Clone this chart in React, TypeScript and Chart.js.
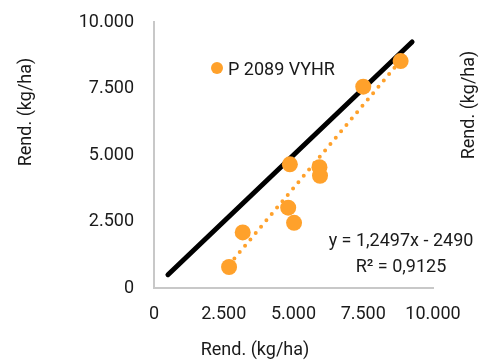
import React, { useEffect, useRef } from "react";
import { Chart, registerables } from "chart.js";

Chart.register(...registerables);

// ---- data ----
const seriesName = "P 2089 VYHR";
const xValues = [2690, 3180, 4810, 4870, 5020, 5930, 5950, 7500, 8840];
const yValues = [790, 2090, 3020, 4650, 2450, 4540, 4220, 7570, 8530];
const refLineValues = [500, 9250]; // 1:1 line start / end
const trendSlope = 1.2497;
const trendIntercept = -2490;
const axisTicks = [0, 2500, 5000, 7500, 10000];
const axisTitle = "Rend. (kg/ha)";
const equationLines = ["y = 1,2497x - 2490", "R² = 0,9125"];

// ---- styles ----
const ORANGE = "#FFA12B";
const TEXT = "#1a1a1a";
const AXIS = "#C8C8C8";
const FONT = "Roboto";

const fmt = (v: number) => String(v).replace(/\B(?=(\d{3})+(?!\d))/g, ".");

const textPlugin = {
  id: "extraTexts",
  afterDraw(chart: any) {
    const ctx = chart.ctx as CanvasRenderingContext2D;
    ctx.save();
    ctx.font = `18px ${FONT}`;
    ctx.fillStyle = TEXT;
    ctx.textBaseline = "alphabetic";
    ctx.textAlign = "center";
    // x axis title
    ctx.fillText(axisTitle, 255, 355);
    // left y axis title
    ctx.save();
    ctx.translate(30.5, 112);
    ctx.rotate(-Math.PI / 2);
    ctx.fillText(axisTitle, 0, 0);
    ctx.restore();
    // right (secondary) y axis title, clipped by the edge
    ctx.save();
    ctx.translate(473.5, 105);
    ctx.rotate(-Math.PI / 2);
    ctx.fillText(axisTitle, 0, 0);
    ctx.restore();
    // legend inside the plot
    ctx.fillStyle = ORANGE;
    ctx.beginPath();
    ctx.arc(217, 68, 6, 0, Math.PI * 2);
    ctx.fill();
    ctx.fillStyle = TEXT;
    ctx.textAlign = "left";
    ctx.fillText(chart.data.datasets[0].label, 228, 75);
    // trendline equation
    ctx.textAlign = "center";
    ctx.fillText(equationLines[0], 401, 246);
    ctx.fillText(equationLines[1], 401, 271.5);
    ctx.restore();
  },
};

export default function App() {
  const ref = useRef<HTMLCanvasElement | null>(null);

  useEffect(() => {
    if (!ref.current) return;
    const points = xValues.map((x, i) => ({ x, y: yValues[i] }));
    const minX = Math.min(...xValues);
    const maxX = Math.max(...xValues);
    const trend = [minX, maxX].map((x) => ({ x, y: trendSlope * x + trendIntercept }));
    const ref11 = refLineValues.map((v) => ({ x: v, y: v }));

    const axisCommon = (isX: boolean) => ({
      type: "linear" as const,
      min: 0,
      max: 10000,
      grid: { display: false, drawTicks: false },
      border: { display: true, color: AXIS, width: 2 },
      afterBuildTicks: (scale: any) => {
        scale.ticks = axisTicks.map((v) => ({ value: v }));
      },
      ticks: {
        padding: isX ? 16 : 20,
        color: TEXT,
        font: { family: FONT, size: 18 },
        callback: (v: any) => fmt(Number(v)),
        autoSkip: false,
        maxRotation: 0,
        minRotation: 0,
      },
      afterFit: (scale: any) => {
        if (isX) scale.height = 73;
        else scale.width = 154;
        scale.paddingTop = 0;
        scale.paddingBottom = 0;
        scale.paddingLeft = 0;
        scale.paddingRight = 0;
      },
    });

    const chart = new Chart(ref.current, {
      type: "scatter",
      data: {
        datasets: [
          {
            label: seriesName,
            data: points,
            backgroundColor: ORANGE,
            borderWidth: 0,
            pointRadius: 8,
            pointHoverRadius: 8,
            order: 0,
          },
          {
            label: "trend",
            type: "line",
            data: trend,
            borderColor: ORANGE,
            borderWidth: 4,
            borderDash: [0, 8.3],
            borderCapStyle: "round",
            pointRadius: 0,
            fill: false,
            order: 1,
          } as any,
          {
            label: "1:1",
            type: "line",
            data: ref11,
            borderColor: "#000000",
            borderWidth: 5,
            borderCapStyle: "round",
            pointRadius: 0,
            fill: false,
            order: 2,
          } as any,
        ],
      },
      options: {
        animation: false,
        responsive: false,
        layout: { padding: { top: 22, right: 47, left: 0, bottom: 0 } },
        plugins: {
          legend: { display: false },
          tooltip: { enabled: false },
        },
        scales: {
          x: { ...axisCommon(true), position: "bottom" },
          y: { ...axisCommon(false), position: "left" },
        },
      },
      plugins: [textPlugin],
    });
    return () => chart.destroy();
  }, []);

  return (
    <div style={{ position: "fixed", left: 0, top: 0, width: 480, height: 361, background: "#fff" }}>
      <canvas ref={ref} width={480} height={361} style={{ width: 480, height: 361 }} />
    </div>
  );
}
